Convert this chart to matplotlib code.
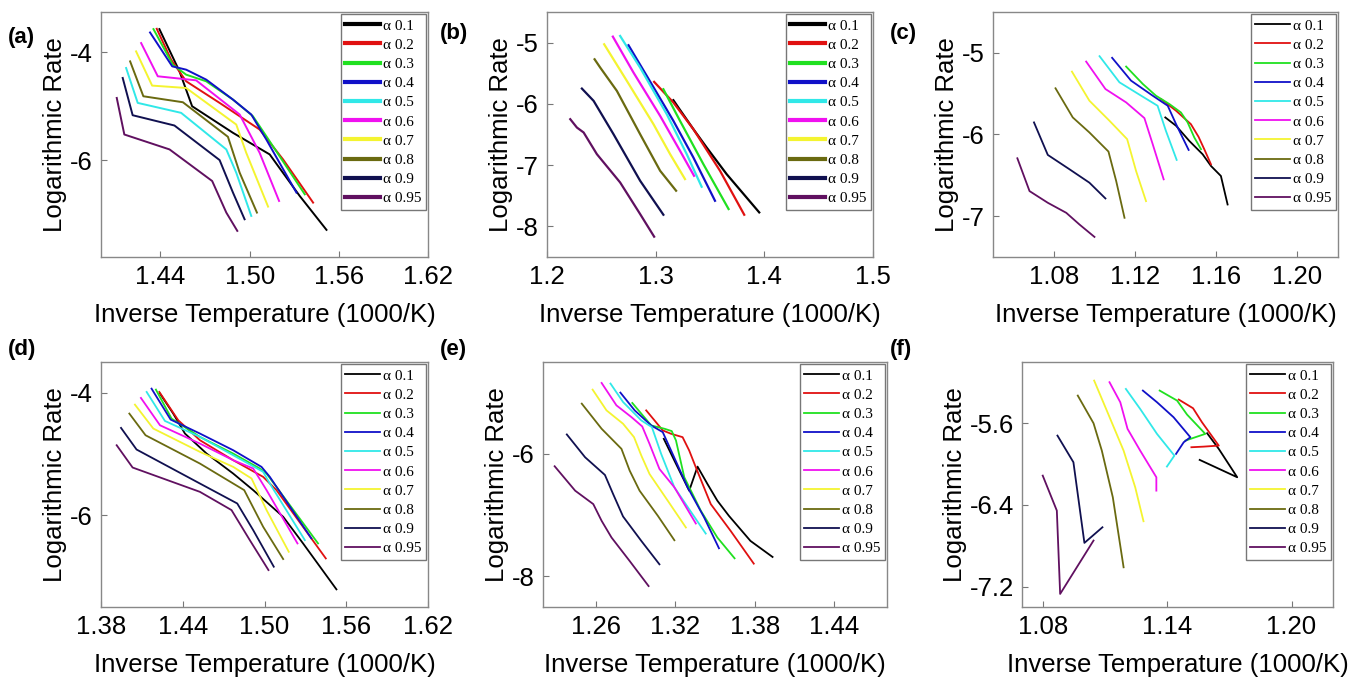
import matplotlib
matplotlib.use('Agg')
import matplotlib.pyplot as plt

plt.rcParams['font.family'] = ['Liberation Sans', 'DejaVu Sans']

alphas = ['0.1', '0.2', '0.3', '0.4', '0.5', '0.6', '0.7', '0.8', '0.9', '0.95']
colors = ['#000000', '#e01010', '#20e020', '#1010c8', '#30e8e8',
          '#f010f0', '#f4f430', '#6a6a10', '#101050', '#601060']

# (a)
a_x = [[1.4393, 1.4528, 1.4613, 1.4888, 1.5135, 1.5337, 1.5517],
       [1.4375, 1.4472, 1.4573, 1.4798, 1.5067, 1.5225, 1.5427],
       [1.4353, 1.4483, 1.4573, 1.4708, 1.4888, 1.5022, 1.5112, 1.5371],
       [1.4330, 1.4479, 1.4573, 1.4708, 1.4888, 1.5011, 1.5112, 1.5315],
       [1.4169, 1.4247, 1.4539, 1.4843, 1.4910, 1.5011],
       [1.4270, 1.4382, 1.4640, 1.4933, 1.5067, 1.5198],
       [1.4236, 1.4344, 1.4573, 1.4910, 1.4977, 1.5124],
       [1.4196, 1.4285, 1.4551, 1.4854, 1.4933, 1.5049],
       [1.4146, 1.4213, 1.4494, 1.4798, 1.4888, 1.4966],
       [1.4106, 1.4157, 1.4461, 1.4748, 1.4843, 1.4917]]
a_y = [[-3.568, -4.352, -5.000, -5.494, -5.895, -6.667, -7.296],
       [-3.562, -4.136, -4.537, -4.938, -5.432, -5.988, -6.790],
       [-3.568, -4.228, -4.414, -4.537, -4.877, -5.185, -5.556, -6.636],
       [-3.630, -4.259, -4.321, -4.506, -4.877, -5.154, -5.617, -6.605],
       [-4.290, -4.938, -5.123, -5.802, -6.235, -7.037],
       [-3.827, -4.444, -4.519, -5.154, -5.864, -6.759],
       [-3.981, -4.617, -4.661, -5.340, -5.864, -6.864],
       [-4.167, -4.815, -4.926, -5.568, -6.235, -6.975],
       [-4.475, -5.167, -5.358, -6.000, -6.605, -7.099],
       [-4.846, -5.525, -5.802, -6.389, -6.975, -7.315]]

# (b)
b_x = [[1.3163, 1.3209, 1.3347, 1.3469, 1.3653, 1.3953],
       [1.2986, 1.3163, 1.3347, 1.3592, 1.3815],
       [1.3071, 1.3224, 1.3439, 1.3671],
       [1.2750, 1.2918, 1.3163, 1.3347, 1.3546],
       [1.2673, 1.2857, 1.3102, 1.3286, 1.3423],
       [1.2606, 1.2796, 1.3041, 1.3224, 1.3353],
       [1.2526, 1.2735, 1.2980, 1.3133, 1.3270],
       [1.2438, 1.2490, 1.2643, 1.2857, 1.3041, 1.3188],
       [1.2321, 1.2429, 1.2612, 1.2857, 1.3071],
       [1.2214, 1.2275, 1.2337, 1.2459, 1.2673, 1.2857, 1.2986]]
b_y = [[-5.940, -6.060, -6.413, -6.712, -7.147, -7.772],
       [-5.641, -5.978, -6.413, -7.092, -7.810],
       [-5.761, -6.277, -6.984, -7.717],
       [-5.043, -5.543, -6.277, -6.875, -7.582],
       [-4.891, -5.408, -6.168, -6.821, -7.353],
       [-4.902, -5.489, -6.196, -6.766, -7.174],
       [-5.027, -5.625, -6.332, -6.821, -7.228],
       [-5.272, -5.408, -5.788, -6.495, -7.092, -7.418],
       [-5.750, -5.951, -6.495, -7.255, -7.810],
       [-6.250, -6.386, -6.467, -6.821, -7.283, -7.799, -8.168]]

# (c)
c_x = [[1.1349, 1.1402, 1.1467, 1.1533, 1.1574, 1.1623, 1.1656],
       [1.1328, 1.1402, 1.1475, 1.1513, 1.1541, 1.1574],
       [1.1156, 1.1238, 1.1303, 1.1369, 1.1426, 1.1459, 1.1492, 1.1525],
       [1.1087, 1.1180, 1.1287, 1.1361, 1.1402, 1.1434, 1.1464],
       [1.1025, 1.1123, 1.1230, 1.1311, 1.1352, 1.1405],
       [1.0959, 1.1054, 1.1156, 1.1246, 1.1287, 1.1341],
       [1.0889, 1.0975, 1.1074, 1.1161, 1.1205, 1.1254],
       [1.0808, 1.0893, 1.0975, 1.1069, 1.1107, 1.1148],
       [1.0702, 1.0770, 1.0877, 1.0975, 1.1054],
       [1.0620, 1.0680, 1.0770, 1.0861, 1.0926, 1.1000]]
c_y = [[-5.791, -5.893, -6.078, -6.242, -6.385, -6.508, -6.857],
       [-5.566, -5.709, -5.873, -6.029, -6.180, -6.365],
       [-5.168, -5.381, -5.525, -5.627, -5.730, -5.852, -6.037, -6.180],
       [-5.061, -5.340, -5.525, -5.648, -5.873, -6.037, -6.189],
       [-5.041, -5.361, -5.525, -5.648, -5.955, -6.311],
       [-5.107, -5.443, -5.607, -5.799, -6.119, -6.549],
       [-5.230, -5.586, -5.832, -6.057, -6.447, -6.816],
       [-5.434, -5.791, -5.975, -6.209, -6.570, -7.020],
       [-5.852, -6.250, -6.426, -6.590, -6.783],
       [-6.291, -6.693, -6.836, -6.959, -7.102, -7.254]]

# (d)
d_x = [[1.4233, 1.4330, 1.4416, 1.4575, 1.4770, 1.4917, 1.5137, 1.5283, 1.5528],
       [1.4228, 1.4367, 1.4526, 1.4770, 1.4990, 1.5088, 1.5450],
       [1.4203, 1.4318, 1.4526, 1.4770, 1.4966, 1.5015, 1.5393],
       [1.4171, 1.4311, 1.4526, 1.4770, 1.4978, 1.5039, 1.5344],
       [1.4135, 1.4269, 1.4526, 1.4770, 1.4990, 1.5039, 1.5296],
       [1.4093, 1.4233, 1.4526, 1.4770, 1.4917, 1.5015, 1.5242],
       [1.4049, 1.4184, 1.4526, 1.4770, 1.4905, 1.5015, 1.5178],
       [1.4008, 1.4127, 1.4526, 1.4851, 1.4990, 1.5137],
       [1.3947, 1.4061, 1.4526, 1.4800, 1.4917, 1.5068],
       [1.3915, 1.4032, 1.4526, 1.4758, 1.4892, 1.5029]]
d_y = [[-4.016, -4.342, -4.668, -4.995, -5.321, -5.592, -6.027, -6.462, -7.212],
       [-3.989, -4.451, -4.777, -5.103, -5.375, -5.592, -6.707],
       [-3.951, -4.424, -4.723, -4.995, -5.239, -5.321, -6.462],
       [-3.935, -4.440, -4.668, -4.940, -5.212, -5.375, -6.380],
       [-3.989, -4.462, -4.723, -5.022, -5.293, -5.484, -6.408],
       [-4.087, -4.533, -4.832, -5.103, -5.239, -5.592, -6.462],
       [-4.196, -4.587, -4.967, -5.212, -5.402, -5.918, -6.598],
       [-4.342, -4.696, -5.158, -5.592, -6.190, -6.717],
       [-4.576, -4.929, -5.484, -5.810, -6.245, -6.842],
       [-4.859, -5.223, -5.620, -5.918, -6.408, -6.897]]

# (e)
e_x = [[1.3113, 1.3193, 1.3305, 1.3368, 1.3443, 1.3518, 1.3605, 1.3768, 1.3935],
       [1.2980, 1.3043, 1.3105, 1.3168, 1.3255, 1.3305, 1.3355, 1.3468, 1.3618, 1.3793],
       [1.2875, 1.3018, 1.3118, 1.3173, 1.3205, 1.3268, 1.3393, 1.3518, 1.3648],
       [1.2785, 1.2893, 1.3018, 1.3105, 1.3168, 1.3293, 1.3418, 1.3530],
       [1.2710, 1.2805, 1.2943, 1.3023, 1.3093, 1.3193, 1.3330, 1.3430],
       [1.2643, 1.2755, 1.2868, 1.2950, 1.3005, 1.3080, 1.3193, 1.3355],
       [1.2575, 1.2680, 1.2805, 1.2888, 1.2943, 1.3005, 1.3143, 1.3280],
       [1.2493, 1.2643, 1.2793, 1.2855, 1.2930, 1.3068, 1.3193],
       [1.2380, 1.2518, 1.2668, 1.2730, 1.2805, 1.2943, 1.3080],
       [1.2288, 1.2443, 1.2580, 1.2643, 1.2718, 1.2855, 1.2998]]
e_y = [[-5.754, -6.109, -6.601, -6.208, -6.492, -6.765, -7.011, -7.421, -7.683],
       [-5.290, -5.454, -5.617, -5.672, -5.727, -5.945, -6.219, -6.820, -7.257, -7.792],
       [-5.169, -5.536, -5.590, -5.628, -5.781, -6.383, -6.929, -7.366, -7.705],
       [-5.000, -5.290, -5.536, -5.645, -5.945, -6.546, -7.038, -7.541],
       [-4.852, -5.153, -5.454, -5.563, -6.000, -6.546, -6.984, -7.301],
       [-4.842, -5.208, -5.399, -5.552, -5.836, -6.246, -6.546, -7.137],
       [-4.951, -5.290, -5.508, -5.727, -6.027, -6.328, -6.765, -7.202],
       [-5.180, -5.590, -5.918, -6.273, -6.601, -7.011, -7.410],
       [-5.683, -6.055, -6.344, -6.656, -7.022, -7.421, -7.803],
       [-6.202, -6.601, -6.820, -7.093, -7.366, -7.749, -8.158]]

# (f)
f_x = [[1.1593, 1.1649, 1.1738, 1.1557],
       [1.1456, 1.1525, 1.1568, 1.1649, 1.1576, 1.1517],
       [1.1364, 1.1448, 1.1496, 1.1584, 1.1536, 1.1488],
       [1.1283, 1.1351, 1.1431, 1.1512, 1.1480, 1.1443],
       [1.1201, 1.1270, 1.1351, 1.1435, 1.1399],
       [1.1122, 1.1174, 1.1209, 1.1270, 1.1348, 1.1348],
       [1.1048, 1.1109, 1.1190, 1.1246, 1.1286],
       [1.0969, 1.1045, 1.1085, 1.1138, 1.1190],
       [1.0871, 1.0948, 1.1001, 1.1088],
       [1.0800, 1.0868, 1.0884, 1.1045]]
f_y = [[-5.698, -5.851, -6.129, -5.959],
       [-5.368, -5.453, -5.590, -5.819, -5.829, -5.835],
       [-5.280, -5.378, -5.515, -5.704, -5.737, -5.770],
       [-5.280, -5.394, -5.541, -5.737, -5.786, -5.900],
       [-5.264, -5.460, -5.704, -5.917, -6.024],
       [-5.198, -5.394, -5.655, -5.868, -6.129, -6.260],
       [-5.182, -5.476, -5.868, -6.227, -6.560],
       [-5.329, -5.600, -5.868, -6.325, -7.011],
       [-5.721, -5.982, -6.772, -6.619],
       [-6.113, -6.456, -7.272, -6.749]]

W, H = 1351, 677
fig = plt.figure(figsize=(W / 100, H / 100), dpi=100)

# name, data, box in pixels (left, top, right, bottom), limits, ticks, line widths
panels = [
    ('(a)', a_x, a_y, (101, 12, 428, 257), (1.40, 1.62), (-7.8, -3.25),
     [1.44, 1.50, 1.56, 1.62], ['1.44', '1.50', '1.56', '1.62'], [-6, -4], (8, 37), 1.4, 3.0),
    ('(b)', b_x, b_y, (547, 12, 873, 257), (1.2, 1.5), (-8.5, -4.5),
     [1.2, 1.3, 1.4, 1.5], ['1.2', '1.3', '1.4', '1.5'], [-8, -7, -6, -5], (440, 33), 1.6, 3.0),
    ('(c)', c_x, c_y, (993, 12, 1338, 257), (1.05, 1.22), (-7.5, -4.5),
     [1.08, 1.12, 1.16, 1.20], ['1.08', '1.12', '1.16', '1.20'], [-7, -6, -5], (890, 33), 1.3, 1.3),
    ('(d)', d_x, d_y, (101, 362, 428, 607), (1.38, 1.62), (-7.5, -3.5),
     [1.38, 1.44, 1.50, 1.56, 1.62], ['1.38', '1.44', '1.50', '1.56', '1.62'], [-6, -4], (8, 349), 1.3, 1.3),
    ('(e)', e_x, e_y, (543, 362, 887, 607), (1.22, 1.48), (-8.5, -4.5),
     [1.26, 1.32, 1.38, 1.44], ['1.26', '1.32', '1.38', '1.44'], [-8, -6], (440, 349), 1.3, 1.3),
    ('(f)', f_x, f_y, (1022, 362, 1333, 607), (1.07, 1.22), (-7.4, -5.0),
     [1.08, 1.14, 1.20], ['1.08', '1.14', '1.20'], [-7.2, -6.4, -5.6], (890, 349), 1.3, 1.3),
]

for (tag, xs, ys, box, xlim, ylim, xt, xtl, yt, tagpos, lw, leglw) in panels:
    l, t, r, b = box
    ax = fig.add_axes([l / W, 1 - b / H, (r - l) / W, (b - t) / H])
    for x, y, a, c in zip(xs, ys, alphas, colors):
        ax.plot(x, y, color=c, lw=lw, label='α ' + a)
    ax.set_xlim(*xlim)
    ax.set_ylim(*ylim)
    ax.set_xticks(xt)
    ax.set_xticklabels(xtl)
    ax.set_yticks(yt)
    ax.set_yticklabels(['%g' % v for v in yt])
    ax.tick_params(direction='in', length=4, width=0.8, color='#777777',
                   labelsize=18.5, pad=6)
    for s in ax.spines.values():
        s.set_color('#888888')
        s.set_linewidth(1.0)
    ax.set_xlabel('Inverse Temperature (1000/K)', fontsize=18.5, labelpad=10)
    ax.set_ylabel('Logarithmic Rate', fontsize=18.5, labelpad=2)
    leg = ax.legend(loc='upper right', frameon=True, fancybox=False,
                    handlelength=2.3, handletextpad=0.15, labelspacing=0.36,
                    borderpad=0.3, borderaxespad=0.15,
                    prop={'family': ['Liberation Serif', 'DejaVu Serif'], 'size': 11})
    leg.get_frame().set_edgecolor('#555555')
    leg.get_frame().set_linewidth(1.0)
    for ln in leg.get_lines():
        ln.set_linewidth(leglw)
    fig.text(tagpos[0] / W, 1 - tagpos[1] / H, tag, fontsize=16, fontweight='bold',
             va='center', ha='left')

fig.savefig('out.png', dpi=100)
